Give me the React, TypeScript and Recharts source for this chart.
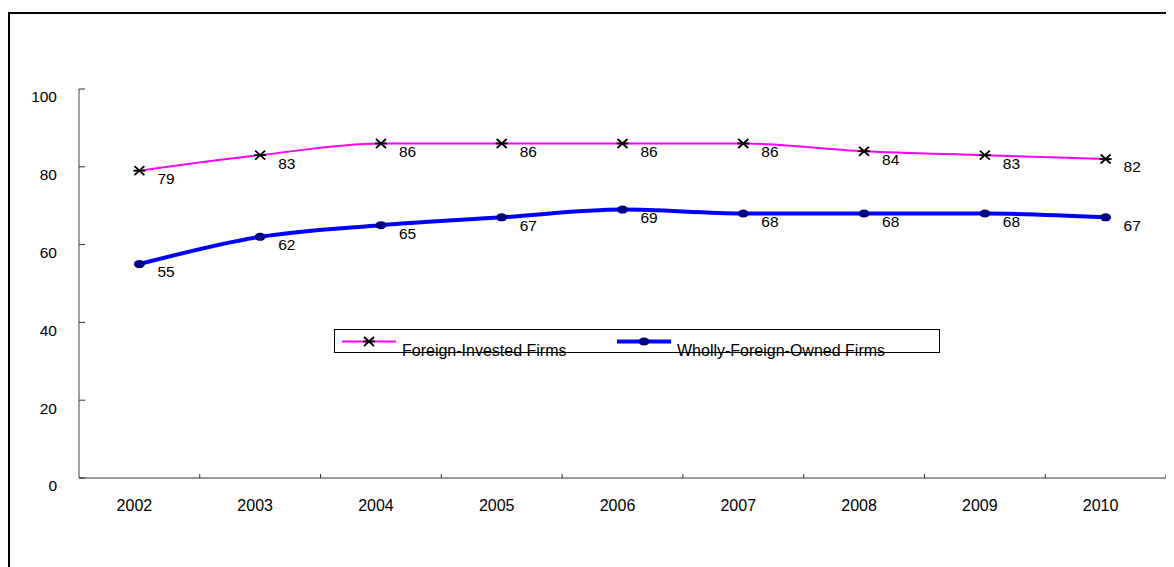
import { LineChart, Line, XAxis, YAxis, Legend } from 'recharts'

const years = ['2002', '2003', '2004', '2005', '2006', '2007', '2008', '2009', '2010']
const foreignInvested = [79, 83, 86, 86, 86, 86, 84, 83, 82]
const whollyForeign = [55, 62, 65, 67, 69, 68, 68, 68, 67]
const yTicks = [0, 20, 40, 60, 80, 100]

const FONT = '"Liberation Sans", Arial, sans-serif'
const TICK_MARGIN = 22

const data = years.map((y, i) => ({ year: y, fie: foreignInvested[i], wfoe: whollyForeign[i] }))

function Star({ cx, cy }: any) {
  if (cx == null || cy == null) return null
  return (
    <g stroke="#000" strokeWidth={1.8}>
      <line x1={cx - 5} y1={cy - 4.5} x2={cx + 5} y2={cy + 4.5} />
      <line x1={cx - 5} y1={cy + 4.5} x2={cx + 5} y2={cy - 4.5} />
      <line x1={cx - 6} y1={cy} x2={cx + 6} y2={cy} />
    </g>
  )
}

function Blob({ cx, cy }: any) {
  if (cx == null || cy == null) return null
  return <ellipse cx={cx} cy={cy} rx={5.5} ry={4} fill="#000080" />
}

function ValueLabel({ x, y, value }: any) {
  return (
    <text x={x + 18} y={y + 8} dy="0.35em" fontSize={15.5} fontFamily={FONT} fill="#000">
      {value}
    </text>
  )
}

function XTick({ x, y, payload }: any) {
  const bx = x + (payload.offset ?? 0)
  const axisY = y - TICK_MARGIN
  return (
    <g>
      <line x1={bx} x2={bx} y1={axisY} y2={axisY - 4} stroke="#333" />
      <text x={x - 5} y={y} dy="0.71em" textAnchor="middle" fontSize={16} fontFamily={FONT} fill="#000">
        {payload.value}
      </text>
    </g>
  )
}

function YTick({ x, y, payload }: any) {
  const axisX = x + TICK_MARGIN
  return (
    <g>
      <line x1={axisX} x2={axisX + 6} y1={y} y2={y} stroke="#333" />
      <text x={x} y={y + 8} dy="0.35em" textAnchor="end" fontSize={15.5} fontFamily={FONT} fill="#000">
        {payload.value}
      </text>
    </g>
  )
}

function LegendBox({ payload }: any) {
  const items = payload ?? []
  const slots = [8, 283]
  return (
    <svg width={606} height={32} style={{ overflow: 'visible', display: 'block' }}>
      <rect x={0.5} y={0.5} width={605} height={23} fill="#fff" stroke="#000" />
      {items.map((p: any, i: number) => {
        const x0 = slots[i] ?? 8
        const isStar = p.dataKey === 'fie'
        return (
          <g key={p.value}>
            <line x1={x0} x2={x0 + 54} y1={12.5} y2={12.5} stroke={p.color} strokeWidth={isStar ? 2 : 4} />
            {isStar ? <Star cx={x0 + 27} cy={12.5} /> : <Blob cx={x0 + 27} cy={12.5} />}
            <text x={x0 + 60} y={27} fontSize={16} fontFamily={FONT} fill="#000">{p.value}</text>
          </g>
        )
      })}
    </svg>
  )
}

export default function App() {
  return (
    <div style={{ marginTop: 4, width: 1166, height: 555, overflow: 'hidden' }}>
      <div style={{ width: 1200, height: 600, border: '2px solid #000', boxSizing: 'border-box', background: '#fff' }}>
        <LineChart
          width={1164}
          height={553}
          data={data}
          margin={{ top: 75, right: 8, bottom: 49, left: 0 }}
        >
          <XAxis
            dataKey="year"
            scale="band"
            interval={0}
            height={40}
            tickSize={0}
            tickMargin={TICK_MARGIN}
            tickLine={false}
            axisLine={{ stroke: '#333' }}
            tick={<XTick />}
          />
          <YAxis
            domain={[0, 100]}
            ticks={yTicks}
            width={69}
            tickSize={0}
            tickMargin={TICK_MARGIN}
            tickLine={false}
            axisLine={{ stroke: '#808080', strokeWidth: 1.5 }}
            tick={<YTick />}
          />
          <Legend
            layout="horizontal"
            verticalAlign="middle"
            align="center"
            wrapperStyle={{ left: 324, top: 315, width: 606, height: 24 }}
            content={<LegendBox />}
          />
          <Line
            name="Foreign-Invested Firms"
            dataKey="fie"
            type="monotone"
            stroke="#FF00FF"
            strokeWidth={2}
            dot={<Star />}
            activeDot={false}
            label={<ValueLabel />}
            isAnimationActive={false}
          />
          <Line
            name="Wholly-Foreign-Owned Firms"
            dataKey="wfoe"
            type="monotone"
            stroke="#0000FF"
            strokeWidth={4}
            dot={<Blob />}
            activeDot={false}
            label={<ValueLabel />}
            isAnimationActive={false}
          />
        </LineChart>
      </div>
    </div>
  )
}
